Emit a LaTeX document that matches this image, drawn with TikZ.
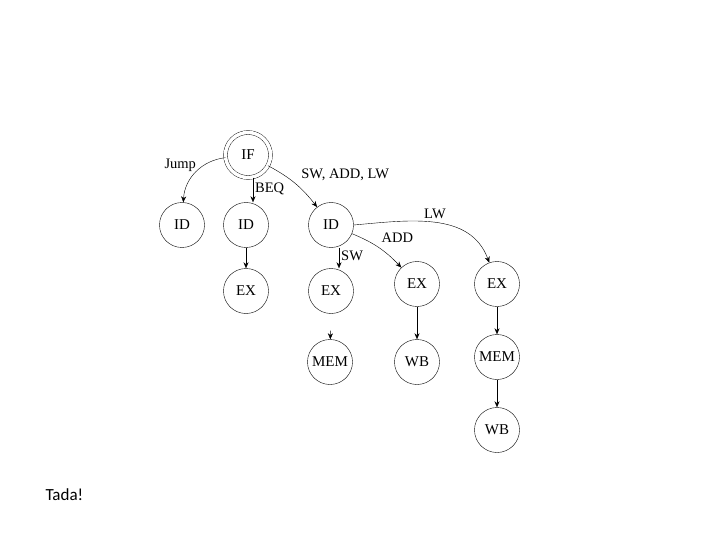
\documentclass[tikz,border=0pt]{standalone}
\usepackage{fontspec}
\setmainfont{Liberation Serif}
\newfontfamily\tadafont{Carlito}
\usetikzlibrary{positioning, calc, arrows.meta}

\tikzset{
    stage/.style={draw, circle, thin, minimum size=45pt, inner sep=0pt, font=\fontsize{15}{17}\selectfont},
    lbl/.style={font=\fontsize{14.5}{16}\selectfont, inner sep=1pt}
}

\begin{document}
\begin{tikzpicture}[x=1pt, y=-1pt, >={Stealth[length=6pt, width=5pt]}]
    \useasboundingbox (0,0) rectangle (720,540);

    % Fetch
    \node[stage, double, double distance=3.5pt, minimum size=45pt] (if) at (248,155) {IF};

    % Decode
    \node[stage] (id1) at (182,225) {ID};
    \node[stage] (id2) at (246,225) {ID};
    \node[stage] (id3) at (331,225) {ID};

    % Execute
    \node[stage] (ex1) at (246,291) {EX};
    \node[stage] (ex2) at (331,291) {EX};
    \node[stage] (ex3) at (417,284) {EX};
    \node[stage] (ex4) at (497,284) {EX};

    % Memory and write back
    \node[stage] (mem1) at (330,362) {MEM};
    \node[stage] (wb1) at (417,362) {WB};
    \node[stage] (mem2) at (497,357) {MEM};
    \node[stage] (wb2) at (497,430) {WB};

    % Branches out of IF
    \draw[->] (if) to[bend right=40] node[lbl, pos=0.12, anchor=east, xshift=-20pt, yshift=-6pt] {Jump} (id1);
    \draw[->] (if.south) ++(5,0) coordinate (ifs) -- (ifs |- id2.north) node[lbl, pos=0.45, right=1pt] {BEQ};
    \draw[->] (if) to[bend left=12] node[lbl, pos=0.2, anchor=west, xshift=20pt, yshift=-2pt] {SW, ADD, LW} (id3);

    % Branches out of ID
    \draw[->] (id3.south) ++(8,0) coordinate (ids) -- (ids |- ex2.north) node[lbl, pos=0.4, right=1pt] {SW};
    \draw[->] (id3) to[bend left=12] node[lbl, pos=0.45, anchor=south west, xshift=4pt, yshift=2pt] {ADD} (ex3);
    \draw[->] (id3.east) to[out=5, in=110] node[lbl, pos=0.5, above=3pt] {LW} (ex4);

    % Straight links
    \draw[->] (id2) -- (ex1);
    \draw[->, shorten <=17pt] (ex2) -- (mem1);
    \draw[->] (ex3) -- (wb1);
    \draw[->] (ex4) -- (mem2);
    \draw[->] (mem2) -- (wb2);

    \node[font=\tadafont\fontsize{17}{20}\selectfont, anchor=west] (tada) at (42,495) {Tada!};
\end{tikzpicture}
\end{document}
